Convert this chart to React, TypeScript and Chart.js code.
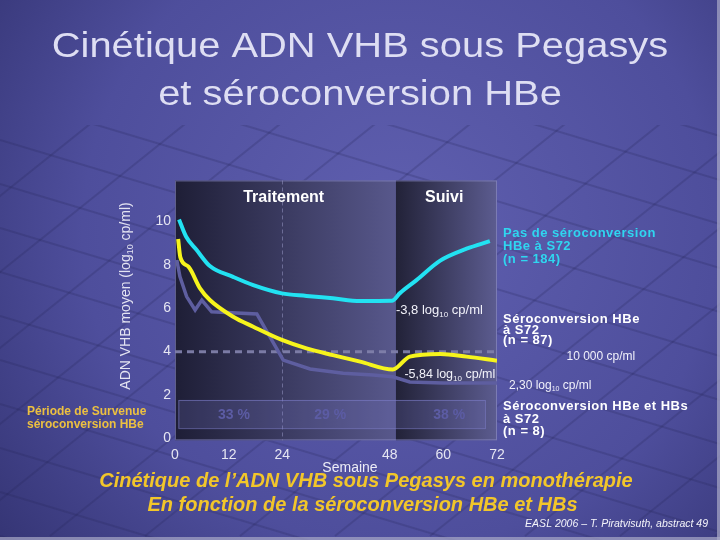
import { useEffect, useRef } from 'react';
import { Chart, registerables } from 'chart.js';

Chart.register(...registerables);

// ---- data (weeks / log10 cp/ml) ----
const weekTicks = [0, 12, 24, 48, 60, 72];
const logTicks = [0, 2, 4, 6, 8, 10];

const cyanWeeks = [0.9, 2.5, 4.8, 7.8, 13, 17.5, 23.9, 29.4, 35.3, 41.4, 48.5, 50.3, 54, 59.3, 65.2, 70.4];
const cyanLog = [10.1, 9.3, 8.7, 7.95, 7.45, 7.07, 6.69, 6.57, 6.46, 6.34, 6.35, 6.7, 7.3, 8.2, 8.75, 9.1];

const yellowWeeks = [0.7, 1.2, 3.0, 5.6, 7.8, 13, 17.5, 23.9, 29.4, 35.3, 41.4, 48.7, 52.5, 59.3, 65.2, 72];
const yellowLog = [9.2, 8.35, 7.92, 6.92, 6.38, 5.61, 5.15, 4.54, 4.15, 3.84, 3.54, 3.18, 3.77, 3.89, 3.77, 3.58];

const grayWeeks = [0.4, 1.1, 2.6, 4.5, 6.0, 8.2, 18.3, 24.2, 30.2, 37.6, 44.3, 48.7, 52.5, 60, 72];
const grayLog = [8.23, 7.46, 6.54, 5.92, 6.38, 5.84, 5.74, 3.61, 3.2, 3.0, 2.92, 2.84, 2.6, 2.55, 2.55];

const thresholdLog = 4; // 10 000 cp/ml
const treatmentEndWeek = 49.4;
const midTreatmentWeek = 24;
const periodLabels = ['33 %', '29 %', '38 %'];
const periodLabelWeeks = [13.2, 34.7, 61.3];

const FONT = '"Liberation Sans", Arial, Helvetica, sans-serif';

type Part = [string, boolean?];

function drawRich(ctx: CanvasRenderingContext2D, parts: Part[], x: number, y: number, size: number, weight: string, align: 'left' | 'center' | 'right', style = 'normal') {
  const fontFor = (sub?: boolean) => `${style} ${weight} ${sub ? Math.round(size * 0.62) : size}px ${FONT}`;
  const widths = parts.map(([t, sub]) => {
    ctx.font = fontFor(sub);
    return ctx.measureText(t).width;
  });
  const total = widths.reduce((a, b) => a + b, 0);
  let cx = align === 'center' ? x - total / 2 : align === 'right' ? x - total : x;
  ctx.textAlign = 'left';
  ctx.textBaseline = 'alphabetic';
  parts.forEach(([t, sub], i) => {
    ctx.font = fontFor(sub);
    ctx.fillText(t, cx, sub ? y + size * 0.22 : y);
    cx += widths[i];
  });
}

const slidePlugin = {
  id: 'slide',
  beforeDraw(chart: any) {
    const { ctx, width, height } = chart;
    ctx.save();
    const g = ctx.createRadialGradient(400, 230, 20, 400, 230, 560);
    g.addColorStop(0, '#5e5eae');
    g.addColorStop(0.55, '#4e4e9c');
    g.addColorStop(1, '#2e2e6a');
    ctx.fillStyle = g;
    ctx.fillRect(0, 0, width, height);
    // decorative network
    ctx.beginPath();
    ctx.rect(0, 125, width, height - 125);
    ctx.clip();
    ctx.strokeStyle = 'rgba(35,35,85,0.22)';
    ctx.lineWidth = 2;
    for (let c = -300; c < 560; c += 44) {
      ctx.beginPath();
      ctx.moveTo(0, c);
      ctx.lineTo(width, c + 0.3 * width);
      ctx.stroke();
    }
    for (let c = 0; c < 1500; c += 95) {
      ctx.beginPath();
      ctx.moveTo(c, 120);
      ctx.lineTo(c - 520, 120 + 520 * 0.8);
      ctx.stroke();
    }
    ctx.restore();
    ctx.save();
    ctx.fillStyle = 'rgba(170,170,200,0.7)';
    ctx.fillRect(width - 3, 0, 3, height);
    ctx.fillRect(0, height - 3, width, 3);
    ctx.restore();
  },
  beforeDatasetsDraw(chart: any) {
    const { ctx, chartArea, scales } = chart;
    const x = scales.x;
    const y = scales.y;
    const top = y.getPixelForValue(11.9);
    const bottom = chartArea.bottom + 2;
    const split = x.getPixelForValue(treatmentEndWeek);
    const left = chartArea.left;
    const right = chartArea.right;
    ctx.save();
    const g1 = ctx.createLinearGradient(left, 0, split, 0);
    g1.addColorStop(0, '#1e1e36');
    g1.addColorStop(1, '#58588c');
    ctx.fillStyle = g1;
    ctx.fillRect(left, top, split - left, bottom - top);
    const g2 = ctx.createLinearGradient(split, 0, right, 0);
    g2.addColorStop(0, '#222238');
    g2.addColorStop(1, '#5c5c90');
    ctx.fillStyle = g2;
    ctx.fillRect(split, top, right - split, bottom - top);
    ctx.strokeStyle = 'rgba(150,150,210,0.55)';
    ctx.lineWidth = 1;
    ctx.strokeRect(left + 0.5, top + 0.5, right - left - 1, bottom - top - 1);

    // vertical dashed line at week 24
    const xm = Math.round(x.getPixelForValue(midTreatmentWeek)) + 0.5;
    ctx.strokeStyle = 'rgba(150,150,195,0.55)';
    ctx.setLineDash([4, 3]);
    ctx.beginPath();
    ctx.moveTo(xm, top);
    ctx.lineTo(xm, bottom);
    ctx.stroke();

    // period box
    const bx0 = x.getPixelForValue(0.75);
    const bx1 = x.getPixelForValue(69.3);
    const by0 = y.getPixelForValue(1.77);
    const by1 = y.getPixelForValue(0.47);
    ctx.setLineDash([]);
    ctx.fillStyle = 'rgba(120,120,200,0.22)';
    ctx.fillRect(bx0, by0, bx1 - bx0, by1 - by0);
    ctx.strokeStyle = 'rgba(125,125,200,0.6)';
    ctx.strokeRect(bx0 + 0.5, by0 + 0.5, bx1 - bx0, by1 - by0);
    ctx.fillStyle = '#5c5ca4';
    ctx.textAlign = 'center';
    ctx.textBaseline = 'middle';
    ctx.font = `bold 14px ${FONT}`;
    periodLabels.forEach((t, i) => {
      ctx.fillText(t, x.getPixelForValue(periodLabelWeeks[i]), (by0 + by1) / 2 + 1);
    });

    // horizontal dashed threshold line
    const yt = y.getPixelForValue(thresholdLog);
    ctx.strokeStyle = 'rgba(128,128,170,0.95)';
    ctx.lineWidth = 3;
    ctx.setLineDash([7, 5]);
    ctx.beginPath();
    ctx.moveTo(left, yt);
    ctx.lineTo(right, yt);
    ctx.stroke();
    ctx.restore();
  },
  afterDatasetsDraw(chart: any) {
    const { ctx, scales } = chart;
    const x = scales.x;
    const y = scales.y;
    ctx.save();
    ctx.fillStyle = '#ffffff';
    ctx.textAlign = 'center';
    ctx.textBaseline = 'alphabetic';
    ctx.font = `bold 16px ${FONT}`;
    ctx.fillText('Traitement', x.getPixelForValue(24.3), 202);
    ctx.fillText('Suivi', x.getPixelForValue(60.2), 202);
    ctx.fillStyle = '#f2f2fa';
    drawRich(ctx, [['-3,8 log'], ['10', true], [' cp/ml']], x.getPixelForValue(49.4), y.getPixelForValue(5.74), 13, 'normal', 'left');
    drawRich(ctx, [['-5,84 log'], ['10', true], [' cp/ml']], x.getPixelForValue(51.3), y.getPixelForValue(2.77), 12.5, 'normal', 'left');
    ctx.restore();
  },
  afterDraw(chart: any) {
    const { ctx } = chart;
    ctx.save();
    // main title
    ctx.fillStyle = '#dedef3';
    ctx.textAlign = 'center';
    ctx.textBaseline = 'alphabetic';
    ctx.font = `35px ${FONT}`;
    const titleLines: [string, number][] = [['Cinétique ADN VHB sous Pegasys', 57], ['et séroconversion HBe', 105]];
    titleLines.forEach(([t, by]) => {
      ctx.save();
      ctx.translate(360, by);
      ctx.scale(1.14, 1);
      ctx.fillText(t, 0, 0);
      ctx.restore();
    });

    // axis title (rotated)
    ctx.save();
    ctx.translate(130, 296);
    ctx.rotate(-Math.PI / 2);
    ctx.fillStyle = '#e4e4f2';
    drawRich(ctx, [['ADN VHB moyen (log'], ['10', true], [' cp/ml)']], 0, 0, 14, 'normal', 'center');
    ctx.restore();

    // x axis title
    ctx.fillStyle = '#ececf6';
    ctx.textAlign = 'center';
    ctx.font = `14px ${FONT}`;
    ctx.fillText('Semaine', 350, 471.5);

    // left note
    ctx.fillStyle = '#ecc040';
    ctx.textAlign = 'left';
    ctx.font = `bold 12px ${FONT}`;
    ctx.fillText('Période de Survenue', 27, 414.5);
    ctx.fillText('séroconversion HBe', 27, 427.8);

    // right legends
    ctx.save();
    ctx.font = `bold 13px ${FONT}`;
    (ctx as any).letterSpacing = '0.5px';
    ctx.fillStyle = '#2fd6f0';
    [['Pas de séroconversion', 236.7], ['HBe à S72', 249.5], ['(n = 184)', 262.5]].forEach(([t, by]) => ctx.fillText(t as string, 503, by as number));
    ctx.fillStyle = '#ffffff';
    [['Séroconversion HBe', 322.5], ['à S72', 333.5], ['(n = 87)', 344]].forEach(([t, by]) => ctx.fillText(t as string, 503, by as number));
    [['Séroconversion HBe et HBs', 410], ['à S72', 423], ['(n = 8)', 434.5]].forEach(([t, by]) => ctx.fillText(t as string, 503, by as number));
    ctx.restore();
    ctx.fillStyle = '#f0f0fa';
    ctx.textAlign = 'left';
    ctx.font = `12px ${FONT}`;
    ctx.fillText('10 000 cp/ml', 566.5, 360);
    drawRich(ctx, [['2,30 log'], ['10', true], [' cp/ml']], 509, 388.5, 12, 'normal', 'left');

    // bottom titles
    ctx.fillStyle = '#f2c62a';
    ctx.textAlign = 'center';
    ctx.font = `italic bold 20px ${FONT}`;
    ctx.fillText('Cinétique de l’ADN VHB sous Pegasys en monothérapie', 366, 486.7);
    ctx.fillText('En fonction de la séroconversion HBe et HBs', 362.5, 510.7);

    ctx.fillStyle = '#f4f4fa';
    ctx.textAlign = 'right';
    ctx.font = `italic 10.5px ${FONT}`;
    ctx.fillText('EASL 2006 – T. Piratvisuth, abstract 49', 708, 527);
    ctx.restore();
  },
};

export default function App() {
  const ref = useRef<HTMLCanvasElement | null>(null);
  useEffect(() => {
    if (!ref.current) return;
    Chart.defaults.font.family = FONT;
    const pts = (xs: number[], ys: number[]) => xs.map((w, i) => ({ x: w, y: ys[i] }));
    const chart = new Chart(ref.current, {
      type: 'line',
      data: {
        datasets: [
          {
            label: 'Pas de séroconversion HBe à S72 (n = 184)',
            data: pts(cyanWeeks, cyanLog),
            borderColor: '#22e2f2',
            borderWidth: 4,
            pointRadius: 0,
            cubicInterpolationMode: 'monotone',
            order: 1,
          },
          {
            label: 'Séroconversion HBe à S72 (n = 87)',
            data: pts(yellowWeeks, yellowLog),
            borderColor: '#f6f41c',
            borderWidth: 4,
            pointRadius: 0,
            cubicInterpolationMode: 'monotone',
            order: 2,
          },
          {
            label: 'Séroconversion HBe et HBs à S72 (n = 8)',
            data: pts(grayWeeks, grayLog),
            borderColor: '#5e5ea0',
            borderWidth: 3.5,
            pointRadius: 0,
            tension: 0,
            order: 3,
          },
        ],
      },
      options: {
        animation: false,
        responsive: false,
        maintainAspectRatio: false,
        layout: { padding: { left: 135, right: 223, top: 178.3, bottom: 61.7 } },
        plugins: { legend: { display: false }, tooltip: { enabled: false } },
        scales: {
          x: {
            type: 'linear',
            min: 0,
            max: 72,
            grid: { display: false, drawTicks: false },
            border: { display: false },
            afterBuildTicks: (scale: any) => {
              scale.ticks = weekTicks.map((v) => ({ value: v }));
            },
            afterFit: (scale: any) => {
              scale.height = 40;
            },
            ticks: { color: '#e6e6f2', font: { size: 14 }, padding: 8, maxRotation: 0, autoSkip: false },
          },
          y: {
            type: 'linear',
            min: 0,
            max: 12,
            grid: { display: false, drawTicks: false },
            border: { display: false },
            afterBuildTicks: (scale: any) => {
              scale.ticks = logTicks.map((v) => ({ value: v }));
            },
            afterFit: (scale: any) => {
              scale.width = 40;
            },
            ticks: { color: '#e6e6f2', font: { size: 14 }, padding: 4 },
          },
        },
      },
      plugins: [slidePlugin],
    } as any);
    return () => chart.destroy();
  }, []);
  return (
    <div style={{ position: 'absolute', left: 0, top: 0, width: 720, height: 540 }}>
      <canvas ref={ref} width={720} height={540} style={{ display: 'block' }} />
    </div>
  );
}
